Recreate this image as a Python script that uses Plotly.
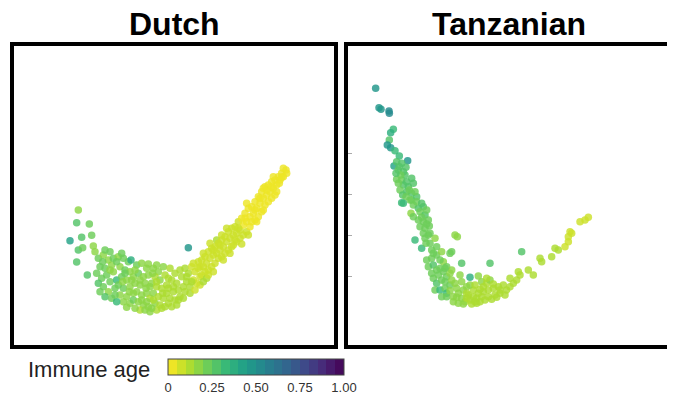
import plotly.graph_objects as go
from plotly.colors import sample_colorscale

# ---------------- data (embedding coordinates, immune age) ----------------
# each entry: (dim1, dim2, immune_age)
dutch_arm = [
    (23.5, 41.0, 0.15), (23.0, 37.2, 0.25), (26.8, 36.8, 0.22), (21.0, 31.8, 0.42),
    (24.5, 32.8, 0.25), (27.5, 33.4, 0.20), (23.5, 29.0, 0.28), (24.8, 29.7, 0.22),
    (28.0, 30.2, 0.17), (23.0, 25.4, 0.28), (26.2, 21.5, 0.25), (56.5, 29.7, 0.45),
]
dutch_cloud = [
    (28.5, 28.5, 0.18), (29.5, 26.5, 0.22), (31.0, 27.5, 0.17), (30.0, 24.0, 0.20),
    (32.5, 26.0, 0.18), (29.0, 22.0, 0.22), (31.5, 23.5, 0.24), (33.5, 24.5, 0.18),
    (30.5, 20.5, 0.20), (32.0, 21.5, 0.22), (34.0, 22.5, 0.17), (29.5, 19.0, 0.26),
    (31.0, 18.0, 0.22), (33.0, 19.5, 0.20), (34.5, 17.5, 0.22), (32.5, 16.5, 0.18),
    (31.5, 15.0, 0.28), (33.5, 14.5, 0.22), (35.0, 20.0, 0.30), (34.0, 26.5, 0.20),
    (35.5, 27.0, 0.18), (37.0, 26.5, 0.22), (38.5, 25.5, 0.20), (39.3, 26.0, 0.35),
    (36.0, 24.0, 0.18), (37.5, 23.0, 0.20), (39.0, 22.5, 0.18), (36.5, 21.0, 0.22),
    (38.0, 20.0, 0.16), (40.0, 21.0, 0.18), (35.5, 18.5, 0.20), (37.0, 17.5, 0.22),
    (39.0, 18.0, 0.17), (36.0, 15.5, 0.16), (38.0, 15.0, 0.18), (40.0, 16.0, 0.15),
    (37.0, 13.5, 0.18), (39.0, 13.0, 0.16), (35.0, 13.5, 0.30), (40.0, 14.0, 0.22),
    (41.0, 24.5, 0.20), (42.5, 25.0, 0.18), (44.0, 23.5, 0.16), (41.5, 22.0, 0.22),
    (43.0, 21.0, 0.18), (44.5, 21.5, 0.15), (40.5, 19.0, 0.15), (42.0, 18.5, 0.18),
    (43.5, 19.0, 0.16), (45.0, 18.0, 0.15), (41.0, 16.5, 0.16), (42.5, 15.5, 0.15),
    (44.0, 16.0, 0.18), (45.0, 14.5, 0.14), (41.5, 13.5, 0.16), (43.0, 12.5, 0.15),
    (44.5, 12.0, 0.16), (42.0, 11.0, 0.14), (40.5, 11.5, 0.18), (45.0, 10.5, 0.15),
    (46.0, 23.5, 0.15), (47.5, 22.5, 0.16), (49.0, 24.0, 0.15), (46.5, 21.0, 0.14),
    (48.0, 20.0, 0.15), (49.5, 21.5, 0.13), (45.5, 19.0, 0.15), (47.0, 18.0, 0.13),
    (48.5, 17.5, 0.14), (50.0, 18.5, 0.12), (46.0, 16.0, 0.15), (47.5, 15.0, 0.14),
    (49.0, 14.5, 0.12), (50.0, 16.0, 0.12), (46.5, 13.0, 0.15), (48.0, 12.5, 0.13),
    (49.5, 12.0, 0.12), (47.0, 11.0, 0.14), (45.5, 11.5, 0.18),
    (51.0, 23.5, 0.14), (52.5, 22.0, 0.12), (51.5, 20.0, 0.13), (53.0, 19.0, 0.11),
    (54.5, 21.0, 0.10), (50.5, 17.5, 0.12), (52.0, 16.5, 0.11), (53.5, 17.0, 0.10),
    (55.0, 18.0, 0.10), (51.0, 14.5, 0.12), (52.5, 14.0, 0.10), (54.0, 15.0, 0.10),
    (50.5, 13.0, 0.13), (53.0, 12.5, 0.11), (55.0, 14.5, 0.10),
    (30.8, 25.5, 0.20), (33.0, 23.0, 0.18), (35.0, 25.5, 0.20), (36.8, 19.5, 0.18),
    (38.8, 16.5, 0.17), (40.5, 23.0, 0.18), (42.0, 20.0, 0.16), (43.8, 17.5, 0.15),
    (45.8, 22.0, 0.15), (47.0, 19.5, 0.14), (48.8, 16.0, 0.13), (46.0, 14.0, 0.14),
    (44.0, 13.5, 0.15), (42.5, 14.0, 0.16), (39.5, 20.0, 0.18), (37.5, 22.0, 0.20),
    (38.0, 11.8, 0.16), (43.5, 11.0, 0.15), (48.5, 11.5, 0.13), (50.5, 20.5, 0.12),
    (52.0, 18.0, 0.11), (53.5, 14.0, 0.11), (54.0, 23.0, 0.11), (51.5, 12.0, 0.12),
    (47.0, 24.5, 0.15), (44.5, 24.8, 0.17), (36.5, 28.0, 0.20), (33.0, 28.5, 0.22),
    (31.5, 29.0, 0.20), (34.5, 15.5, 0.20), (30.0, 16.5, 0.24),
]
dutch_band = [
    (55.5, 23.5, 0.10), (56.5, 22.0, 0.10), (57.5, 24.0, 0.08), (58.5, 22.5, 0.09),
    (59.5, 25.5, 0.08), (56.0, 19.5, 0.11), (57.0, 18.0, 0.10), (58.0, 20.0, 0.09),
    (59.0, 19.0, 0.08), (60.0, 21.0, 0.08), (55.5, 16.5, 0.11), (57.0, 16.0, 0.10),
    (58.5, 17.0, 0.09), (60.0, 18.5, 0.08),
    (60.5, 26.0, 0.08), (61.5, 27.0, 0.08), (62.5, 28.5, 0.07), (63.5, 29.5, 0.07),
    (64.5, 30.0, 0.06), (61.0, 24.0, 0.08), (62.0, 25.0, 0.08), (63.0, 26.5, 0.07),
    (64.0, 27.5, 0.07), (65.0, 28.0, 0.06), (60.5, 21.5, 0.08), (61.5, 22.5, 0.09),
    (62.5, 23.0, 0.08), (63.5, 24.0, 0.07), (64.5, 25.0, 0.06), (62.0, 20.5, 0.10),
    (64.0, 22.5, 0.08), (61.0, 19.5, 0.10), (65.0, 32.0, 0.14),
    (65.5, 31.0, 0.06), (66.5, 32.0, 0.06), (67.5, 33.0, 0.05), (68.5, 34.5, 0.05),
    (69.5, 35.5, 0.05), (66.0, 29.0, 0.06), (67.0, 30.0, 0.06), (68.0, 31.5, 0.05),
    (69.0, 32.5, 0.05), (70.0, 33.5, 0.05), (65.5, 26.5, 0.07), (66.5, 27.0, 0.06),
    (67.5, 28.0, 0.06), (68.5, 29.0, 0.05), (69.5, 30.0, 0.05), (70.0, 30.5, 0.05),
    (70.5, 36.0, 0.05), (71.5, 37.5, 0.05), (72.5, 38.5, 0.04), (73.5, 40.0, 0.04),
    (74.5, 41.5, 0.04), (71.0, 34.0, 0.05), (72.0, 35.0, 0.05), (73.0, 36.5, 0.04),
    (74.0, 37.5, 0.04), (75.0, 39.0, 0.04), (71.0, 31.5, 0.05), (72.0, 32.5, 0.05),
    (73.0, 33.5, 0.05), (74.0, 34.5, 0.05), (75.0, 36.0, 0.04),
    (75.5, 42.0, 0.04), (76.5, 43.5, 0.04), (77.5, 45.0, 0.03), (78.5, 46.5, 0.03),
    (79.5, 48.0, 0.03), (76.0, 40.0, 0.04), (77.0, 41.5, 0.04), (78.0, 43.0, 0.03),
    (79.0, 44.5, 0.03), (80.0, 45.5, 0.03), (76.5, 38.0, 0.04), (77.5, 39.0, 0.04),
    (78.5, 40.5, 0.03), (79.5, 42.5, 0.03),
    (80.5, 48.5, 0.03), (81.5, 49.5, 0.02), (82.5, 50.0, 0.02), (83.5, 51.0, 0.02),
    (81.0, 46.5, 0.03), (82.0, 47.5, 0.02), (83.0, 48.5, 0.02), (84.0, 50.0, 0.02),
    (81.5, 44.5, 0.03), (82.5, 45.5, 0.03), (84.5, 52.0, 0.02), (85.0, 51.0, 0.02),
    (85.8, 53.0, 0.02), (86.0, 52.0, 0.02), (85.0, 53.5, 0.02),
    (56.0, 21.0, 0.10), (58.0, 25.0, 0.09), (59.5, 23.5, 0.08), (57.5, 19.5, 0.10),
    (61.0, 28.0, 0.08), (63.0, 31.0, 0.08), (62.5, 21.5, 0.09), (66.0, 30.5, 0.06),
    (67.0, 26.0, 0.07), (68.0, 35.5, 0.06), (69.0, 28.0, 0.06), (70.5, 32.0, 0.05),
    (71.5, 35.5, 0.05), (72.5, 30.8, 0.06), (73.5, 38.5, 0.04), (74.5, 33.5, 0.05),
    (75.5, 37.5, 0.04), (76.5, 41.0, 0.04), (77.0, 37.5, 0.04), (78.0, 44.5, 0.03),
    (79.0, 41.0, 0.03), (80.0, 47.0, 0.03), (80.5, 43.5, 0.03), (81.5, 48.0, 0.02),
    (83.0, 46.5, 0.02), (83.8, 49.0, 0.02), (84.5, 50.8, 0.02), (82.0, 51.0, 0.02),
    (60.0, 24.0, 0.08), (64.0, 29.0, 0.07), (66.5, 33.5, 0.06), (74.0, 43.0, 0.04),
    (79.0, 47.5, 0.03),
]

tanz_top = [
    (10.7, 77.5, 0.48), (11.7, 71.7, 0.46), (12.3, 71.2, 0.46), (14.7, 70.7, 0.52),
    (14.8, 70.0, 0.52), (16.0, 65.2, 0.34), (15.2, 64.2, 0.36), (14.8, 62.0, 0.26),
    (14.2, 60.5, 0.46), (15.2, 59.7, 0.46), (16.5, 58.8, 0.30), (17.8, 57.2, 0.30),
    (20.3, 55.8, 0.46), (16.2, 54.2, 0.40), (17.0, 55.5, 0.28), (18.5, 55.0, 0.26),
    (17.5, 53.0, 0.24), (19.0, 52.5, 0.26), (17.0, 50.2, 0.24), (18.5, 50.0, 0.24),
    (21.5, 50.5, 0.28), (19.0, 48.5, 0.25), (20.5, 48.0, 0.26), (22.0, 49.0, 0.28),
    (18.0, 47.0, 0.24), (20.0, 46.5, 0.26), (21.5, 46.0, 0.28), (17.5, 49.0, 0.24),
    (19.5, 51.5, 0.25), (20.8, 47.0, 0.24), (18.8, 45.5, 0.28), (21.0, 44.0, 0.24),
    (17.8, 54.0, 0.25), (19.8, 53.8, 0.25), (18.2, 51.5, 0.23), (20.0, 49.5, 0.25),
    (16.8, 52.0, 0.27), (19.8, 45.0, 0.23),
]
tanz_mid = [
    (18.5, 43.2, 0.34), (21.5, 44.0, 0.24), (23.0, 45.0, 0.25), (22.5, 46.5, 0.24),
    (22.0, 42.5, 0.24), (23.5, 41.5, 0.25), (25.0, 42.0, 0.27), (21.3, 40.0, 0.19),
    (24.0, 40.5, 0.23), (25.5, 39.5, 0.25), (26.0, 41.0, 0.23), (23.5, 38.0, 0.22),
    (25.0, 37.5, 0.23), (26.5, 38.0, 0.23), (24.0, 36.0, 0.21), (25.5, 35.5, 0.22),
    (26.8, 36.2, 0.23), (25.0, 34.0, 0.22), (26.5, 33.5, 0.23), (19.0, 43.0, 0.34),
    (22.5, 32.0, 0.30), (24.5, 29.5, 0.30), (25.5, 32.5, 0.23), (27.0, 31.0, 0.22),
    (27.5, 29.0, 0.23), (28.5, 32.5, 0.19), (26.0, 26.0, 0.23), (27.5, 26.5, 0.22),
    (29.0, 27.5, 0.22), (30.5, 28.5, 0.19), (26.5, 24.0, 0.23), (28.0, 24.5, 0.25),
    (29.0, 23.0, 0.23), (31.0, 25.5, 0.19), (31.0, 22.5, 0.22), (28.0, 20.5, 0.23),
    (29.0, 19.0, 0.28), (30.5, 20.0, 0.23), (32.0, 21.0, 0.21), (33.0, 22.0, 0.19),
    (28.5, 17.0, 0.23), (30.0, 17.0, 0.34), (31.5, 17.5, 0.23), (33.0, 18.5, 0.22),
    (34.5, 19.0, 0.19), (33.0, 28.0, 0.23), (33.5, 28.5, 0.23), (34.5, 33.5, 0.16),
    (35.2, 33.0, 0.16), (36.5, 25.0, 0.26), (30.0, 23.5, 0.23), (32.0, 24.0, 0.22),
    (33.5, 23.0, 0.19), (31.5, 19.5, 0.23), (27.5, 22.0, 0.23), (32.0, 16.0, 0.32),
    (23.0, 43.5, 0.24), (24.5, 43.0, 0.25), (22.0, 39.0, 0.22), (24.5, 38.8, 0.22),
    (26.0, 36.8, 0.21), (25.8, 31.0, 0.22), (27.0, 34.0, 0.21), (29.0, 30.0, 0.20),
    (28.0, 28.0, 0.22), (30.0, 26.0, 0.21), (29.5, 21.5, 0.22), (31.5, 23.5, 0.20),
    (33.5, 20.0, 0.19),
]
tanz_bottom = [
    (30.5, 15.0, 0.24), (32.0, 15.0, 0.20), (34.0, 15.0, 0.17), (35.5, 16.0, 0.15),
    (37.0, 17.0, 0.15), (38.0, 18.0, 0.16), (36.5, 19.5, 0.17), (39.0, 20.8, 0.36),
    (41.5, 21.2, 0.15), (42.5, 19.5, 0.15), (44.0, 19.0, 0.13), (45.0, 20.0, 0.15),
    (45.0, 25.0, 0.26), (40.0, 17.0, 0.14), (41.5, 16.0, 0.13), (43.0, 16.5, 0.12),
    (44.5, 17.0, 0.12), (46.0, 17.5, 0.12), (47.5, 18.0, 0.12), (49.0, 18.5, 0.12),
    (34.0, 13.5, 0.15), (35.5, 13.0, 0.15), (37.5, 13.5, 0.14), (39.0, 14.0, 0.13),
    (41.0, 14.5, 0.13), (42.5, 15.0, 0.12), (44.5, 15.0, 0.13), (46.5, 15.5, 0.12),
    (48.0, 16.0, 0.12), (38.5, 15.5, 0.14), (40.0, 15.0, 0.13), (41.0, 13.0, 0.12),
    (42.0, 13.5, 0.13), (43.5, 14.0, 0.12), (39.5, 12.8, 0.14), (37.0, 12.8, 0.15),
    (36.5, 14.5, 0.15), (45.5, 14.2, 0.12), (47.0, 14.8, 0.11),
    (35.0, 17.5, 0.16), (36.0, 21.5, 0.18), (38.0, 16.0, 0.14), (39.0, 18.5, 0.15),
    (40.5, 18.5, 0.14), (43.0, 18.0, 0.13), (38.0, 14.5, 0.14), (44.0, 20.5, 0.14),
    (46.0, 18.8, 0.12), (48.0, 17.0, 0.11), (49.5, 15.5, 0.11), (35.0, 14.8, 0.15),
    (33.0, 16.8, 0.18), (42.0, 17.2, 0.13), (40.5, 13.5, 0.13),
]
tanz_right = [
    (50.0, 17.0, 0.11), (51.0, 18.0, 0.11), (52.0, 19.0, 0.12), (53.0, 20.0, 0.11),
    (51.0, 20.5, 0.14), (53.5, 22.5, 0.14), (54.0, 21.5, 0.11), (54.5, 28.5, 0.25),
    (56.5, 23.0, 0.11), (58.0, 21.5, 0.11), (60.0, 26.5, 0.10), (60.5, 25.5, 0.10),
    (63.5, 27.0, 0.10), (64.5, 29.5, 0.10), (65.5, 29.0, 0.10), (67.5, 30.0, 0.09),
    (68.5, 31.5, 0.09), (69.0, 34.5, 0.09), (69.5, 34.0, 0.09), (68.5, 33.0, 0.09),
    (72.0, 37.5, 0.07), (73.5, 38.0, 0.07), (74.5, 38.8, 0.07),
]

cbar_ticks = [0, 0.25, 0.5, 0.75, 1.0]
cbar_ticktext = ["0", "0.25", "0.50", "0.75", "1.00"]
tanz_yticks = [21.2, 33.5, 45.8, 58.1]


def unzip(*groups):
    xs, ys, cs = [], [], []
    for g in groups:
        for x, y, c in g:
            xs.append(x)
            ys.append(y)
            cs.append(c)
    return xs, ys, cs


dx, dy, dc = unzip(dutch_arm, dutch_cloud, dutch_band)
tx, ty, tc = unzip(tanz_top, tanz_mid, tanz_bottom, tanz_right)

# stepped reversed viridis (like a binned colourbar)
nbin = 20
cols = sample_colorscale("Viridis_r", [(i + 0.5) / nbin for i in range(nbin)])
cscale = []
for i, c in enumerate(cols):
    cscale.append([i / nbin, c])
    cscale.append([(i + 1) / nbin, c])

# The page body has an 8px margin; lay the figure out in window pixels.
OFF = 8
W, H = 675 - OFF, 394 - OFF


def px(x):
    return (x - OFF) / W


def py(y):
    return 1 - (y - OFF) / H


marker_common = dict(size=7.5, colorscale=cscale, cmin=0, cmax=1, opacity=0.82,
                     line=dict(width=0))
FONT = "Liberation Sans, Arial, Helvetica, sans-serif"

fig = go.Figure()
fig.add_trace(go.Scatter(
    x=dx, y=dy, mode="markers", xaxis="x", yaxis="y",
    marker=dict(color=dc, showscale=True,
                colorbar=dict(
                    orientation="h", x=px(168), xanchor="left", y=py(359),
                    yanchor="top", len=176 / W, lenmode="fraction", thickness=16,
                    xpad=0, ypad=0, outlinecolor="#444", outlinewidth=1,
                    tickvals=cbar_ticks, ticktext=cbar_ticktext, ticks="",
                    tickfont=dict(family=FONT, size=13, color="#333"),
                ),
                **marker_common),
    showlegend=False, hoverinfo="skip"))
fig.add_trace(go.Scatter(
    x=tx, y=ty, mode="markers", xaxis="x2", yaxis="y2",
    marker=dict(color=tc, showscale=False, **marker_common),
    showlegend=False, hoverinfo="skip"))

axis_common = dict(showgrid=False, zeroline=False, showticklabels=False,
                   showline=True, mirror=True, linewidth=4, linecolor="black",
                   ticks="")
ydom = [py(345), py(46)]
fig.update_layout(
    width=W, height=H, margin=dict(l=0, r=0, t=0, b=0),
    paper_bgcolor="white", plot_bgcolor="white",
    xaxis=dict(domain=[px(14), px(334)], range=[4.2, 100.2], **axis_common),
    yaxis=dict(domain=ydom, range=[0.5, 90.2], **axis_common),
    xaxis2=dict(domain=[px(348), px(669)], range=[2.4, 98.7], anchor="y2", **axis_common),
    yaxis2=dict(domain=ydom, range=[0.5, 90.2], anchor="x2",
                showgrid=False, zeroline=False, showticklabels=False,
                showline=True, mirror=True, linewidth=4, linecolor="black",
                ticks="inside", ticklen=4, tickwidth=1, tickcolor="#aaa",
                tickvals=tanz_yticks),
    annotations=[
        dict(text="<b>Dutch</b>", x=px(174), y=py(24), xref="paper", yref="paper",
             showarrow=False, xanchor="center", yanchor="middle",
             font=dict(family=FONT, size=32, color="black")),
        dict(text="<b>Tanzanian</b>", x=px(509), y=py(24), xref="paper", yref="paper",
             showarrow=False, xanchor="center", yanchor="middle",
             font=dict(family=FONT, size=32, color="black")),
        dict(text="Immune age", x=px(89), y=py(369), xref="paper", yref="paper",
             showarrow=False, xanchor="center", yanchor="middle",
             font=dict(family=FONT, size=22, color="#222")),
    ],
)

fig.write_html("out.html")
